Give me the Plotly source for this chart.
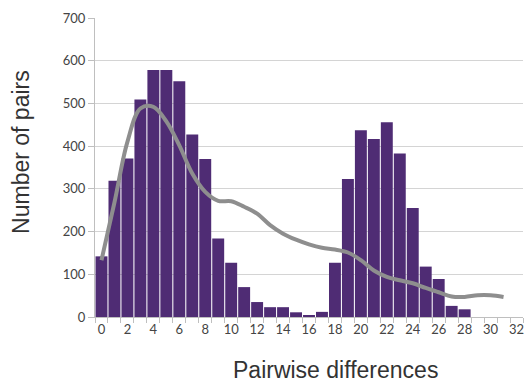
import plotly.graph_objects as go

categories = list(range(0, 33))
bar_x = list(range(0, 29))
bar_counts = [142, 319, 371, 509, 578, 578, 552, 427, 370, 184, 127, 70, 35,
              23, 23, 11, 4, 12, 127, 323, 437, 417, 456, 383, 255, 118, 89, 26, 18]
line_x = list(range(0, 32))
line_vals = [133, 268, 410, 488, 492, 458, 402, 336, 293, 272, 271, 258, 242,
             215, 195, 181, 170, 162, 158, 151, 133, 109, 94, 86, 79, 68, 58,
             48, 47, 51, 51, 47]
tick_vals = list(range(0, 33, 2))
tick_text = [str(v) for v in tick_vals]
x_title = "Pairwise differences"
y_title = "Number of pairs"

fig = go.Figure()
fig.add_trace(go.Bar(x=bar_x, y=bar_counts, marker=dict(color="#4f2c74", line=dict(width=0)),
                     showlegend=False))
fig.add_trace(go.Scatter(x=line_x, y=line_vals, mode="lines",
                         line=dict(color="#8e8e8e", width=4, shape="spline", smoothing=1.0),
                         showlegend=False))

tick_family = "Lato, Open Sans, sans-serif"
title_family = "Liberation Sans, Arial, sans-serif"
fig.update_layout(
    width=529, height=383,
    margin=dict(l=95, r=6, t=18, b=66),
    paper_bgcolor="white", plot_bgcolor="white",
    bargap=0.08,
    font=dict(family=tick_family, color="#444"),
    xaxis=dict(
        automargin=False,
        range=[-0.5, 32.5],
        tickvals=tick_vals, ticktext=tick_text,
        ticks="", showgrid=False,
        showline=True, linecolor="#bfbfbf", linewidth=1,
        tickfont=dict(size=13, color="#444", family=tick_family),
        minor=dict(tickmode="linear", tick0=0.5, dtick=1, ticks="outside",
                   ticklen=5, tickcolor="#bfbfbf", showgrid=False),
        zeroline=False,
    ),
    yaxis=dict(
        automargin=False,
        range=[0, 700], dtick=100,
        showgrid=True, gridcolor="#d4d4d4", gridwidth=1,
        showline=True, linecolor="#bfbfbf", linewidth=1,
        ticks="outside", ticklen=6, tickcolor="#bfbfbf",
        tickfont=dict(size=13, color="#444", family=tick_family),
        zeroline=False,
    ),
    annotations=[
        dict(text=x_title, xref="paper", yref="paper", x=0.561, y=-0.177,
             xanchor="center", yanchor="middle", showarrow=False,
             font=dict(size=23, color="#333", family=title_family)),
        dict(text=y_title, xref="paper", yref="paper", x=-0.173, y=0.552,
             xanchor="center", yanchor="middle", showarrow=False, textangle=-90,
             font=dict(size=23, color="#333", family=title_family)),
    ],
)
fig.write_html("out.html", config={"displayModeBar": False},
               post_script="document.body.style.margin='0';document.body.style.overflow='hidden';")
